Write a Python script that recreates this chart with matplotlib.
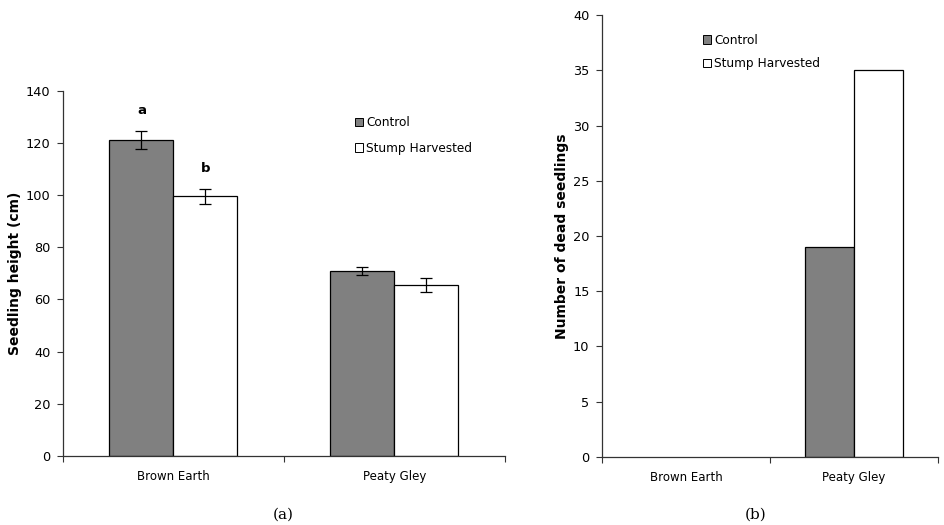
import numpy as np
import matplotlib
matplotlib.use("Agg")
import matplotlib.pyplot as plt
from matplotlib.patches import Patch

# data
soils = ["Brown Earth", "Peaty Gley"]
height_control = [121.0, 71.0]
height_stump = [99.5, 65.6]
err_control = [3.4, 1.6]
err_stump = [2.8, 2.6]
letters_control = ["a", ""]
letters_stump = ["b", ""]

dead_control = [0, 19]
dead_stump = [0, 35]

grey = "#808080"
plt.rcParams["font.family"] = "DejaVu Sans"

fig = plt.figure(figsize=(9.44, 5.25), dpi=100)
ax1 = fig.add_axes([0.0667, 0.1314, 0.468, 0.696])
ax2 = fig.add_axes([0.6377, 0.130, 0.356, 0.841])

x = np.arange(len(soils)) + 0.5
w = 0.29


def style(ax, ymax, ystep):
    ax.set_xlim(0, len(soils))
    ax.set_ylim(0, ymax)
    ax.set_yticks(np.arange(0, ymax + 0.1, ystep))
    ax.set_xticks(np.arange(0, len(soils) + 1))
    ax.set_xticklabels([])
    ax.set_xticks(x, minor=True)
    ax.set_xticklabels(soils, minor=True)
    ax.tick_params(axis="x", which="minor", length=0, pad=10, labelsize=8.5)
    ax.tick_params(axis="x", which="major", length=4, width=0.8, color="#333333")
    ax.tick_params(axis="y", length=4, width=0.8, color="#333333", labelsize=9.3, pad=5)
    for s in ["top", "right"]:
        ax.spines[s].set_visible(False)
    for s in ["left", "bottom"]:
        ax.spines[s].set_color("#333333")
        ax.spines[s].set_linewidth(0.9)


def edges(vals):
    return ["black" if v > 0 else "none" for v in vals]


# (a) seedling height
ax1.bar(x - w / 2, height_control, w, color=grey, edgecolor="black", linewidth=0.9,
        yerr=err_control, capsize=4, error_kw=dict(elinewidth=0.9, capthick=0.9, ecolor="black"))
ax1.bar(x + w / 2, height_stump, w, color="white", edgecolor="black", linewidth=0.9,
        yerr=err_stump, capsize=4, error_kw=dict(elinewidth=0.9, capthick=0.9, ecolor="black"))
for i in range(len(soils)):
    if letters_control[i]:
        ax1.text(x[i] - w / 2, height_control[i] + err_control[i] + 8, letters_control[i],
                 ha="center", va="center", fontsize=9.5, fontweight="bold")
    if letters_stump[i]:
        ax1.text(x[i] + w / 2, height_stump[i] + err_stump[i] + 8, letters_stump[i],
                 ha="center", va="center", fontsize=9.5, fontweight="bold")
style(ax1, 140, 20)
ax1.set_ylabel("Seedling height (cm)", fontsize=10, fontweight="bold", labelpad=3)

# (b) dead seedlings
ax2.bar(x - w / 2, dead_control, w, color=grey, edgecolor=edges(dead_control), linewidth=0.9)
ax2.bar(x + w / 2, dead_stump, w, color="white", edgecolor=edges(dead_stump), linewidth=0.9)
style(ax2, 40, 5)
ax2.set_ylabel("Number of dead seedlings", fontsize=10, fontweight="bold", labelpad=3)

handles = [Patch(facecolor=grey, edgecolor="black", linewidth=0.7),
           Patch(facecolor="white", edgecolor="black", linewidth=0.7)]
labels = ["Control", "Stump Harvested"]
ax1.legend(handles, labels, loc="upper left", bbox_to_anchor=(0.661, 0.93), frameon=False,
           handlelength=0.7, handleheight=0.7, handletextpad=0.25, borderpad=0,
           borderaxespad=0, labelspacing=1.05, fontsize=8.7)
ax2.legend(handles, labels, loc="upper left", bbox_to_anchor=(0.30, 0.958), frameon=False,
           handlelength=0.7, handleheight=0.7, handletextpad=0.25, borderpad=0,
           borderaxespad=0, labelspacing=0.85, fontsize=8.7)

fig.text(0.30, 0.02, "(a)", ha="center", va="center", fontsize=11, family="DejaVu Serif")
fig.text(0.80, 0.02, "(b)", ha="center", va="center", fontsize=11, family="DejaVu Serif")

fig.savefig("out.png", dpi=100)
